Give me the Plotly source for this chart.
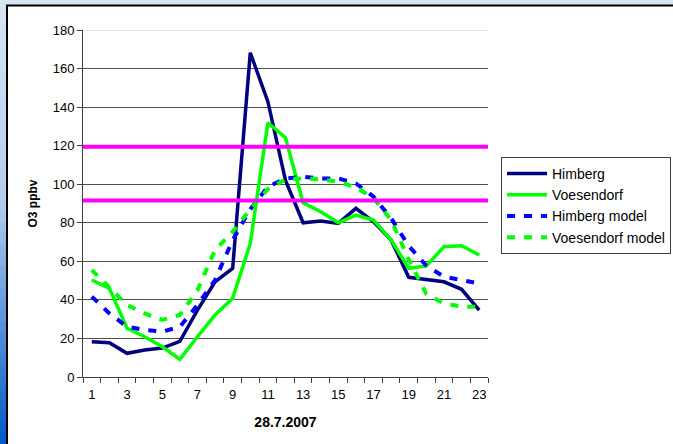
import plotly.graph_objects as go

hours = list(range(1, 24))
himberg = [18.3, 17.8, 12.3, 14.0, 15.0, 18.5, 34.7, 49.4, 56.4, 168.2, 142.8, 102.0,
           80.0, 80.9, 79.7, 87.5, 80.5, 71.0, 51.7, 50.7, 49.4, 45.5, 34.7]
voesendorf = [50.3, 46.0, 25.3, 20.9, 15.7, 9.2, 20.9, 32.2, 40.8, 69.3, 131.9, 124.1,
              90.4, 85.7, 80.0, 84.0, 81.4, 71.0, 56.4, 57.6, 67.6, 68.1, 63.3]
himberg_model = [41.7, 33.0, 26.1, 24.4, 23.5, 26.0, 37.3, 50.3, 71.0, 87.0, 98.7, 103.0,
                 103.9, 103.0, 103.0, 100.4, 93.5, 82.3, 68.0, 57.7, 52.0, 50.0, 48.5]
voesendorf_model = [55.5, 46.4, 37.3, 33.0, 29.6, 32.2, 45.0, 65.9, 75.4, 87.0, 97.5, 102.5,
                    103.0, 102.5, 101.3, 98.4, 92.7, 81.4, 61.0, 43.0, 38.2, 36.5, 36.5]
thresholds = [119.4, 91.6]
x_tick_labels = [str(h) for h in hours if h % 2 == 1]
y_ticks = list(range(0, 181, 20))

FONT = "Liberation Sans, Arial, sans-serif"

# plot-area geometry in pixels
W, H = 673, 444
L, R, T, B = 83, 488, 30, 377
pw, ph = R - L, B - T


def px_x(px):
    return (px - L) / pw


def px_y(py):
    return (B - py) / ph


fig = go.Figure()

series = [
    ("Himberg", himberg, "#000080", 3.5, "solid"),
    ("Voesendorf", voesendorf, "#00ff00", 3.5, "solid"),
    ("Himberg model", himberg_model, "#0000ff", 4, "8px,9px"),
    ("Voesendorf model", voesendorf_model, "#00ff00", 4, "8px,9px"),
]
for name, vals, col, w, dash in series:
    fig.add_trace(go.Scatter(x=hours, y=vals, mode="lines", name=name,
                             line=dict(color=col, width=w, dash=dash)))

# invisible trace to carry the odd-number category labels on xaxis2
fig.add_trace(go.Scatter(x=[hours[0]], y=[None], xaxis="x2", showlegend=False,
                         hoverinfo="skip"))

shapes = []
# background gradient strip on left side
n = 40
top = (0xd7, 0xe5, 0xf3)
mid = (0xb5, 0xcd, 0xec)
bot = (0x05, 0x5c, 0xc8)
for i in range(n):
    f = i / (n - 1)
    if f < 0.45:
        g = f / 0.45
        c = tuple(int(top[k] + (mid[k] - top[k]) * g) for k in range(3))
    else:
        g = (f - 0.45) / 0.55
        c = tuple(int(mid[k] + (bot[k] - mid[k]) * g) for k in range(3))
    y0p = i * H / n
    y1p = (i + 1) * H / n + 1
    shapes.append(dict(type="rect", xref="paper", yref="paper", layer="below",
                       x0=px_x(-2), x1=px_x(8), y0=px_y(y1p), y1=px_y(y0p),
                       line=dict(width=0), fillcolor="rgb(%d,%d,%d)" % c))
# white chart frame with black border
shapes.append(dict(type="rect", xref="paper", yref="paper", layer="below",
                   x0=px_x(7), x1=px_x(690), y0=px_y(460), y1=px_y(5.5),
                   line=dict(color="#000000", width=2), fillcolor="#ffffff"))
# light top gridline
shapes.append(dict(type="line", xref="paper", yref="y", layer="between",
                   x0=0, x1=1, y0=180, y1=180, line=dict(color="#c8c8c8", width=1)))
# magenta threshold lines
for t in thresholds:
    shapes.append(dict(type="line", xref="paper", yref="y", x0=0, x1=1, y0=t, y1=t,
                       line=dict(color="#ff00ff", width=4)))

fig.update_layout(
    width=W, height=H,
    margin=dict(l=L, r=W - R, t=T, b=H - B, autoexpand=False),
    paper_bgcolor="#d7e5f3",
    plot_bgcolor="#ffffff",
    font=dict(family=FONT, size=13, color="#000000"),
    shapes=shapes,
    showlegend=True,
    legend=dict(x=px_x(501), y=px_y(157), xanchor="left", yanchor="top",
                bgcolor="#ffffff", bordercolor="#404040", borderwidth=1,
                font=dict(family=FONT, size=14, color="#000000"),
                itemwidth=40, tracegroupgap=0),
    xaxis=dict(range=[0.5, 23.5], tickmode="array",
               tickvals=[h - 0.5 for h in hours] + [23.5],
               ticktext=[""] * 24, ticks="outside", ticklen=5, tickcolor="#404040",
               showline=True, linecolor="#404040", linewidth=1,
               showgrid=False, zeroline=False),
    xaxis2=dict(range=[0.5, 23.5], overlaying="x", anchor="y", side="bottom",
                tickmode="array", tickvals=[h for h in hours if h % 2 == 1],
                ticktext=x_tick_labels, ticks="outside", ticklen=5,
                tickcolor="rgba(0,0,0,0)", showline=False, showgrid=False,
                zeroline=False, tickfont=dict(size=13),
                title=dict(text="<b>28.7.2007</b>", standoff=16,
                           font=dict(size=14))),
    yaxis=dict(range=[0, 180], tickmode="array", tickvals=y_ticks,
               ticks="outside", ticklen=5, tickcolor="#404040",
               showline=True, linecolor="#404040", linewidth=1,
               showgrid=True, gridcolor="#505050", gridwidth=1, zeroline=False,
               tickfont=dict(size=13),
               title=dict(text="<b>O3 ppbv</b>", standoff=12, font=dict(size=12))),
)

fig.write_html("out.html",
               config={"displayModeBar": False},
               post_script="document.body.style.margin='0';"
                           "document.body.style.overflow='hidden';")
